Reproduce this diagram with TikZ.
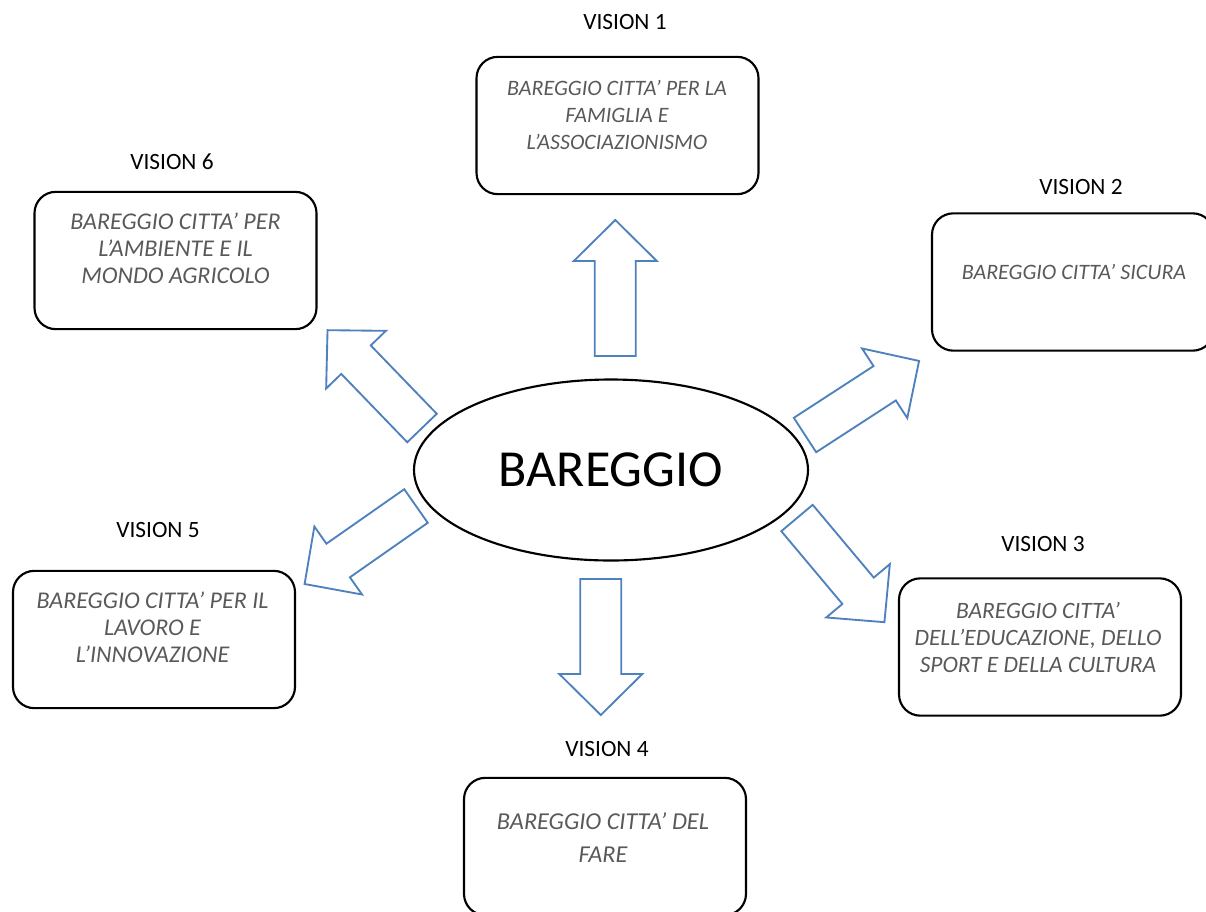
\documentclass[tikz,border=0pt]{standalone}
\usepackage{fontspec}
\setmainfont{Carlito}
\usetikzlibrary{shapes.geometric}

\definecolor{arrowblue}{HTML}{4F81BD}
\definecolor{textgray}{HTML}{595959}

\tikzset{
  visionbox/.style={draw=black, line width=1.6pt, rounded corners=16pt,
    minimum width=211.5pt, minimum height=103pt, inner sep=0pt},
  visiontext/.style={align=center, text=textgray, inner sep=0pt,
    font=\fontsize{16.5}{20.25}\selectfont\itshape},
  bigtext/.style={visiontext, font=\fontsize{18}{20.25}\selectfont\itshape},
  visionlabel/.style={inner sep=0pt, font=\fontsize{17.5}{21}\selectfont},
  blockarrow/.style={draw=arrowblue, line width=1.4pt, line join=miter}
}

\begin{document}
\begin{tikzpicture}[x=0.75pt, y=-0.75pt]
\useasboundingbox (0,0) rectangle (1206,911);
% centre
\node[draw, ellipse, line width=1.6pt, minimum width=295.5pt, minimum height=135.75pt,
  inner sep=0pt, font=\fontsize{39}{40}\selectfont] (bareggio) at (611,470) {BAREGGIO};
% block arrows: shaft end (x,y) and direction
\foreach \x/\y/\a in {615.3/356/90, 805/435/33, 797/518/-50, 600.8/579/-90, 416/506/215, 422/428/134}
  \draw[blockarrow, shift={(\x,\y)}, rotate=\a]
    (0,-20.5) -- (95,-20.5) -- (95,-41.5) -- (136,0) -- (95,41.5) -- (95,20.5) -- (0,20.5) -- cycle;
% vision 1
\node[visionlabel] (v1) at (625,22) {VISION 1};
\node[visionbox] (box1) at (617.5,125.5) {};
\node[visiontext] (txt1) at (617,115) {BAREGGIO CITTA’ PER LA\\FAMIGLIA E\\L’ASSOCIAZIONISMO};
% vision 2
\node[visionlabel] (v2) at (1081,187) {VISION 2};
\node[visionbox] (box2) at (1073,282) {};
\node[visiontext] (txt2) at (1074,271.5) {BAREGGIO CITTA’ SICURA};
% vision 3
\node[visionlabel] (v3) at (1043,544) {VISION 3};
\node[visionbox] (box3) at (1040,647) {};
\node[visiontext, font=\fontsize{17.6}{20.25}\selectfont\itshape] (txt3) at (1038,637) {BAREGGIO CITTA’\\DELL’EDUCAZIONE, DELLO\\SPORT E DELLA CULTURA};
% vision 4
\node[visionlabel] (v4) at (607,749) {VISION 4};
\node[visionbox] (box4) at (605,846.5) {};
\node[bigtext, font=\fontsize{18.2}{24.75}\selectfont\itshape] (txt4) at (603,838) {BAREGGIO CITTA’ DEL\\FARE};
% vision 5
\node[visionlabel] (v5) at (158,530) {VISION 5};
\node[visionbox] (box5) at (154,639.5) {};
\node[bigtext] (txt5) at (152.5,627) {BAREGGIO CITTA’ PER IL\\LAVORO E\\L’INNOVAZIONE};
% vision 6
\node[visionlabel] (v6) at (172,162) {VISION 6};
\node[visionbox] (box6) at (175.5,260.5) {};
\node[bigtext] (txt6) at (175.5,248) {BAREGGIO CITTA’ PER\\L’AMBIENTE E IL\\MONDO AGRICOLO};
\end{tikzpicture}
\end{document}
